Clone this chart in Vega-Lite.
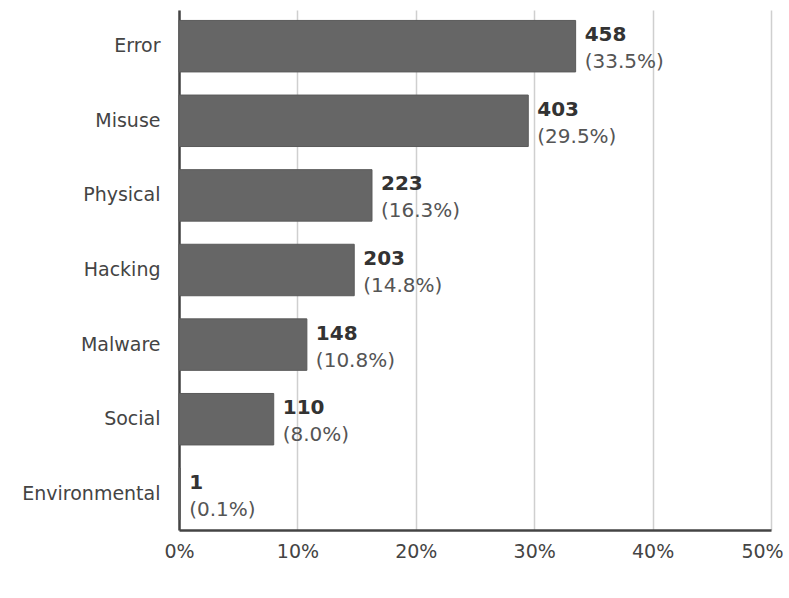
{
  "$schema": "https://vega.github.io/schema/vega-lite/v6.json",
  "width": 592,
  "height": 520,
  "autosize": {"type": "none"},
  "padding": {"left": 179, "top": 10, "right": 18, "bottom": 68},
  "background": "white",
  "config": {
    "view": {"stroke": null},
    "font": "DejaVu Sans"
  },
  "data": {
    "values": [
      {"category": "Error", "count": 458, "pct": 0.335},
      {"category": "Misuse", "count": 403, "pct": 0.295},
      {"category": "Physical", "count": 223, "pct": 0.163},
      {"category": "Hacking", "count": 203, "pct": 0.148},
      {"category": "Malware", "count": 148, "pct": 0.108},
      {"category": "Social", "count": 110, "pct": 0.08},
      {"category": "Environmental", "count": 1, "pct": 0.001}
    ]
  },
  "transform": [
    {"calculate": "'(' + format(datum.pct, '.1%') + ')'", "as": "pctLabel"}
  ],
  "encoding": {
    "y": {
      "field": "category",
      "type": "nominal",
      "sort": null,
      "scale": {"paddingInner": 0.31, "paddingOuter": 0.14},
      "axis": {
        "title": null,
        "ticks": false,
        "labelFontSize": 19,
        "labelColor": "#444",
        "labelPadding": 19,
        "domainColor": "#444",
        "domainWidth": 2.5
      }
    },
    "x": {
      "field": "pct",
      "type": "quantitative",
      "scale": {"domain": [0, 0.5], "nice": false},
      "axis": {
        "title": null,
        "format": ".0%",
        "values": [0, 0.1, 0.2, 0.3, 0.4, 0.5],
        "ticks": false,
        "labelFontSize": 19,
        "labelColor": "#444",
        "labelPadding": 12,
        "labelFlush": false,
        "labelOffset": {"condition": {"test": "datum.value >= 0.5", "value": -9}, "value": 0},
        "domainColor": "#444",
        "domainWidth": 2.5,
        "gridColor": "#cfcfcf",
        "gridWidth": 1.5
      }
    }
  },
  "layer": [
    {"mark": {"type": "bar", "color": "#666666", "stroke": "#5a5a5a", "strokeWidth": 1}},
    {
      "mark": {"type": "text", "align": "left", "baseline": "middle", "dx": 9, "dy": -11, "fontSize": 20, "fontWeight": "bold", "color": "#333"},
      "encoding": {"text": {"field": "count", "type": "quantitative"}}
    },
    {
      "mark": {"type": "text", "align": "left", "baseline": "middle", "dx": 9, "dy": 16, "fontSize": 20, "color": "#555"},
      "encoding": {"text": {"field": "pctLabel", "type": "nominal"}}
    }
  ]
}
